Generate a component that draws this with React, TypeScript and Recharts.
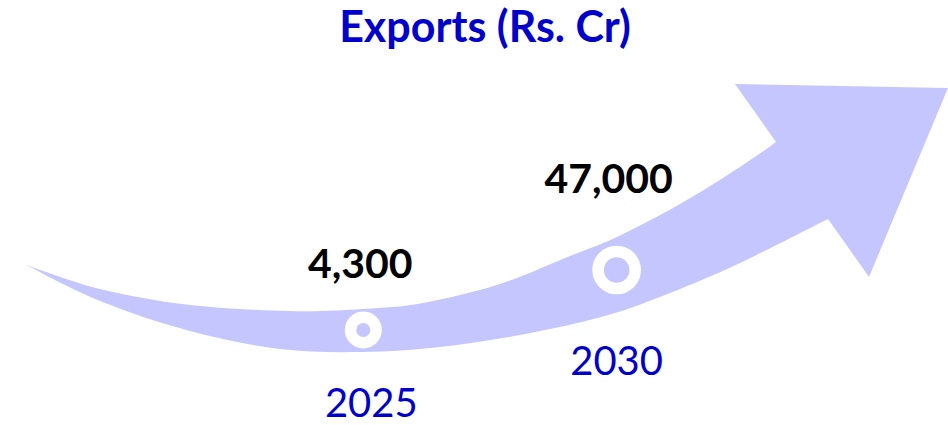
import { ComposedChart, XAxis, YAxis, Scatter, Customized } from 'recharts';

// chart values
const years = [2025, 2030];
const yearLabels = ['2025', '2030'];
const exportsCr = [4300, 47000];
const valueLabels = ['4,300', '47,000'];

const table = years.map((y, i) => ({
  year: y,
  value: exportsCr[i],
  valueLabel: valueLabels[i],
  yearLabel: yearLabels[i],
  idx: i,
}));

const ARROW = '#c6c6ff';
const BLUE = '#0000cc';
const FONT = 'Lato, "Open Sans", sans-serif';

// per-marker layout: ring size and label offsets relative to the point
const markerLayout = [
  { ro: 18.5, ri: 7, vx: -3, vy: -52, yx: 8, yy: 87 },
  { ro: 24.3, ri: 12.8, vx: -8, vy: -77, yx: 0, yy: 105 },
];

// decorative arrow outline (pixel space)
const upperEdge: [number, number][] = [
  [26, 265], [100, 289], [190, 305], [290, 311], [363, 309], [423, 303],
  [500, 284], [570, 256], [617, 237], [680, 204], [740, 167], [776, 142],
];
const lowerEdge: [number, number][] = [
  [828, 219], [740, 263], [670, 293], [605, 316], [520, 335], [440, 347],
  [363, 352], [280, 349], [190, 331], [100, 301], [26, 265],
];

function smooth(pts: [number, number][], cmd: string) {
  let d = `${cmd}${pts[0][0]},${pts[0][1]}`;
  for (let i = 0; i < pts.length - 1; i++) {
    const p0 = pts[i - 1] || pts[i];
    const p1 = pts[i];
    const p2 = pts[i + 1];
    const p3 = pts[i + 2] || p2;
    const c1x = p1[0] + (p2[0] - p0[0]) / 6;
    const c1y = p1[1] + (p2[1] - p0[1]) / 6;
    const c2x = p2[0] - (p3[0] - p1[0]) / 6;
    const c2y = p2[1] - (p3[1] - p1[1]) / 6;
    d += ` C${c1x},${c1y} ${c2x},${c2y} ${p2[0]},${p2[1]}`;
  }
  return d;
}

const arrowPath =
  smooth(upperEdge, 'M') +
  ' L735,84 L948,88 L869,277 L828,219 ' +
  smooth(lowerEdge, 'L') +
  ' Z';

const Decor = () => (
  <g>
    <path d={arrowPath} fill={ARROW} />
    <text x={485} y={42} textAnchor="middle" fontFamily={FONT} fontWeight={700} fontSize={43} fill={BLUE}>
      Exports (Rs. Cr)
    </text>
  </g>
);

const Marker = (props: any) => {
  const { cx, cy, payload } = props;
  const m = markerLayout[payload.idx];
  return (
    <g>
      <circle cx={cx} cy={cy} r={(m.ro + m.ri) / 2} fill="none" stroke="#ffffff" strokeWidth={m.ro - m.ri} />
      <text x={cx + m.vx} y={cy + m.vy} textAnchor="middle" fontFamily={FONT} fontWeight={700} fontSize={41} fill="#000000">
        {payload.valueLabel}
      </text>
      <text x={cx + m.yx} y={cy + m.yy} textAnchor="middle" fontFamily={FONT} fontSize={40} fill={BLUE}>
        {payload.yearLabel}
      </text>
    </g>
  );
};

export default function App() {
  return (
    <div style={{ position: 'absolute', left: 0, top: 0, background: '#fff' }}>
      <ComposedChart width={948} height={425} data={table} margin={{ top: 0, right: 0, bottom: 0, left: 0 }}>
        <XAxis type="number" dataKey="year" domain={[2017.83, 2036.54]} hide />
        <YAxis type="number" dataKey="value" domain={[-63308, 239150]} hide />
        <Customized component={Decor} />
        <Scatter data={table} dataKey="value" shape={Marker} isAnimationActive={false} />
      </ComposedChart>
    </div>
  );
}
